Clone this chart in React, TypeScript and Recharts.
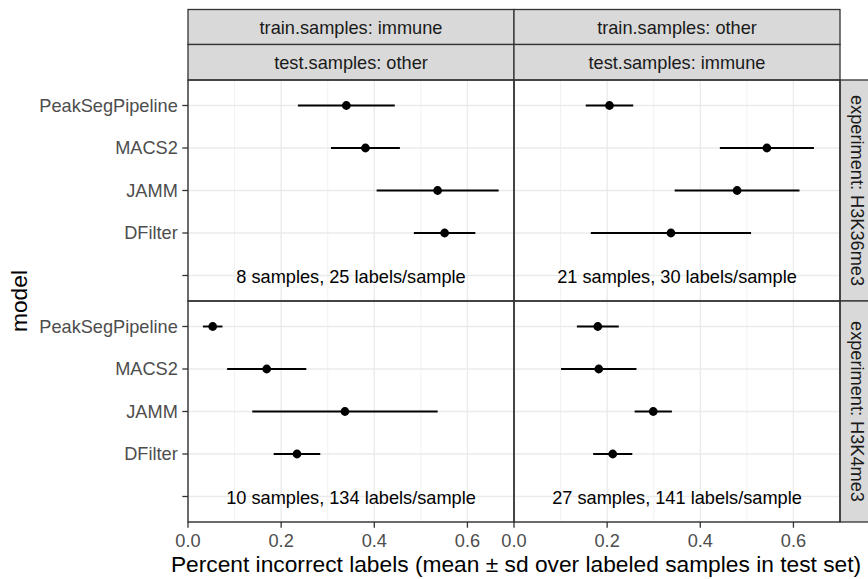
import React from "react";
import {
  ScatterChart,
  Scatter,
  XAxis,
  YAxis,
  CartesianGrid,
  ErrorBar,
  ReferenceLine,
} from "recharts";

// ---------- data ----------
const models = ["PeakSegPipeline", "MACS2", "JAMM", "DFilter"];
const rowLabels = [...models, ""];
const experiments = ["H3K36me3", "H3K4me3"];
const trainSamples = ["immune", "other"];
const testSamples = ["other", "immune"];
const xMajorTicks = [0, 0.2, 0.4, 0.6];
const xMinorTicks = [0.1, 0.3, 0.5, 0.7];

const meanH3K36me3TrainImmune = [0.34, 0.381, 0.536, 0.551];
const sdH3K36me3TrainImmune = [0.104, 0.074, 0.131, 0.066];
const meanH3K36me3TrainOther = [0.205, 0.543, 0.479, 0.337];
const sdH3K36me3TrainOther = [0.051, 0.101, 0.134, 0.172];
const meanH3K4me3TrainImmune = [0.053, 0.169, 0.337, 0.234];
const sdH3K4me3TrainImmune = [0.021, 0.085, 0.199, 0.05];
const meanH3K4me3TrainOther = [0.18, 0.182, 0.299, 0.212];
const sdH3K4me3TrainOther = [0.045, 0.081, 0.04, 0.042];

const testSampleCounts = [
  [8, 21],
  [10, 27],
];
const labelsPerSample = [
  [25, 30],
  [134, 141],
];
const annotationX = 0.35;

const means = [
  [meanH3K36me3TrainImmune, meanH3K36me3TrainOther],
  [meanH3K4me3TrainImmune, meanH3K4me3TrainOther],
];
const sds = [
  [sdH3K36me3TrainImmune, sdH3K36me3TrainOther],
  [sdH3K4me3TrainImmune, sdH3K4me3TrainOther],
];

// ---------- layout ----------
const FONT = '"Liberation Sans", Arial, Helvetica, sans-serif';
const COL_X = [188, 514];
const ROW_Y = [80, 301];
const PANEL_W = 326;
const PANEL_H = 221;
const Y_AXIS_W = 188;
const X_AXIS_H = 60;
const BORDER = "#333333";
const GRID = "#EBEBEB";
const STRIP_FILL = "#D9D9D9";

const Dot = (props: any) => {
  const { cx, cy } = props;
  if (cx == null || cy == null) return null;
  return <circle cx={cx} cy={cy} r={4.4} fill="#000000" />;
};

const NoteText = (props: any) => {
  const { cx, cy, payload } = props;
  if (cx == null || cy == null) return null;
  return (
    <text
      x={cx}
      y={cy}
      dy="0.4em"
      textAnchor="middle"
      fontSize={18.2}
      fill="#000000"
      fontFamily={FONT}
    >
      {payload.label}
    </text>
  );
};

function Panel({ r, c }: { r: number; c: number }) {
  const showY = c === 0;
  const showX = r === rowLabels.length ? false : r === 1;
  const data = models.map((m, i) => ({
    model: m,
    y: i,
    x: means[r][c][i],
    sd: sds[r][c][i],
  }));
  const note = [
    {
      x: annotationX,
      y: rowLabels.length - 1,
      label: `${testSampleCounts[r][c]} samples, ${labelsPerSample[r][c]} labels/sample`,
    },
  ];
  const leftPad = showY ? Y_AXIS_W : 24;
  const width = leftPad + PANEL_W;
  const height = PANEL_H + (showX ? X_AXIS_H : 0);
  const left = COL_X[c] - leftPad;
  return (
    <div style={{ position: "absolute", left, top: ROW_Y[r] }}>
      <ScatterChart
        width={width}
        height={height}
        margin={{ top: 0, right: 0, bottom: 0, left: showY ? 0 : leftPad }}
      >
        <CartesianGrid stroke={GRID} strokeWidth={1.4} />
        {xMinorTicks.map((v) => (
          <ReferenceLine key={v} x={v} stroke={GRID} strokeWidth={0.7} />
        ))}
        <XAxis
          type="number"
          dataKey="x"
          domain={[0, 0.7]}
          ticks={xMajorTicks}
          interval={0}
          allowDataOverflow
          hide={!showX}
          height={X_AXIS_H}
          tickFormatter={(v: number) => v.toFixed(1)}
          axisLine={false}
          tickLine={{ stroke: BORDER, strokeWidth: 1.3 }}
          tickSize={5.7}
          tickMargin={6.6}
          tick={{ fill: "#4D4D4D", fontSize: 18.2, fontFamily: FONT }}
        />
        <YAxis
          type="number"
          dataKey="y"
          domain={[-0.6, rowLabels.length - 1 + 0.6]}
          ticks={rowLabels.map((_, i) => i)}
          interval={0}
          reversed
          allowDataOverflow
          hide={!showY}
          width={Y_AXIS_W}
          tickFormatter={(i: number) => rowLabels[i] ?? ""}
          axisLine={false}
          tickLine={{ stroke: BORDER, strokeWidth: 1.3 }}
          tickSize={5.7}
          tickMargin={4.5}
          tick={{ fill: "#4D4D4D", fontSize: 18.2, fontFamily: FONT }}
        />
        <Scatter data={data} shape={Dot} isAnimationActive={false}>
          <ErrorBar
            dataKey="sd"
            direction="x"
            width={0}
            stroke="#000000"
            strokeWidth={1.9}
            isAnimationActive={false}
          />
        </Scatter>
        <Scatter data={note} shape={NoteText} isAnimationActive={false} />
      </ScatterChart>
    </div>
  );
}

function Overlay() {
  const stripTop = 9.5;
  const stripH1 = 35;
  const stripH2 = 35.5;
  const rightStripX = 840;
  const rightStripW = 35;
  return (
    <svg
      width={868}
      height={579}
      style={{ position: "absolute", left: 0, top: 0, pointerEvents: "none" }}
      fontFamily={FONT}
    >
      {/* top strips */}
      {trainSamples.map((t, c) => (
        <g key={"tr" + c}>
          <rect
            x={COL_X[c]}
            y={stripTop}
            width={PANEL_W}
            height={stripH1}
            fill={STRIP_FILL}
            stroke={BORDER}
            strokeWidth={1.3}
          />
          <text
            x={COL_X[c] + PANEL_W / 2}
            y={stripTop + stripH1 / 2}
            dy="0.358em"
            textAnchor="middle"
            fontSize={18.2}
            fill="#1A1A1A"
          >
            {`train.samples: ${t}`}
          </text>
          <rect
            x={COL_X[c]}
            y={stripTop + stripH1}
            width={PANEL_W}
            height={stripH2}
            fill={STRIP_FILL}
            stroke={BORDER}
            strokeWidth={1.3}
          />
          <text
            x={COL_X[c] + PANEL_W / 2}
            y={stripTop + stripH1 + stripH2 / 2}
            dy="0.358em"
            textAnchor="middle"
            fontSize={18.2}
            fill="#1A1A1A"
          >
            {`test.samples: ${testSamples[c]}`}
          </text>
        </g>
      ))}
      {/* right strips */}
      {experiments.map((e, r) => (
        <g key={"ex" + r}>
          <rect
            x={rightStripX}
            y={ROW_Y[r]}
            width={rightStripW}
            height={PANEL_H}
            fill={STRIP_FILL}
            stroke={BORDER}
            strokeWidth={1.3}
          />
          <text
            transform={`translate(${rightStripX + rightStripW / 2 - 0.3}, ${ROW_Y[r] + PANEL_H / 2}) rotate(90)`}
            dy="0.358em"
            textAnchor="middle"
            fontSize={18.2}
            fill="#1A1A1A"
          >
            {`experiment: ${e}`}
          </text>
        </g>
      ))}
      {/* panel borders */}
      {ROW_Y.map((y, r) =>
        COL_X.map((x, c) => (
          <rect
            key={`b${r}${c}`}
            x={x}
            y={y}
            width={PANEL_W}
            height={PANEL_H}
            fill="none"
            stroke={BORDER}
            strokeWidth={1.4}
          />
        ))
      )}
      {/* axis titles */}
      <text
        x={(COL_X[0] + COL_X[1] + PANEL_W) / 2 + 2}
        y={572}
        textAnchor="middle"
        fontSize={22.75}
        fill="#000000"
      >
        Percent incorrect labels (mean ± sd over labeled samples in test set)
      </text>
      <text
        transform={`translate(26.7, ${(ROW_Y[0] + ROW_Y[1] + PANEL_H) / 2}) rotate(-90)`}
        textAnchor="middle"
        fontSize={22.75}
        fill="#000000"
      >
        model
      </text>
    </svg>
  );
}

export default function App() {
  return (
    <div
      style={{
        position: "absolute",
        left: 0,
        top: 0,
        width: 868,
        height: 579,
        background: "#FFFFFF",
        fontFamily: FONT,
        overflow: "hidden",
      }}
    >
      {ROW_Y.map((_, r) =>
        COL_X.map((__, c) => <Panel key={`${r}-${c}`} r={r} c={c} />)
      )}
      <Overlay />
    </div>
  );
}
